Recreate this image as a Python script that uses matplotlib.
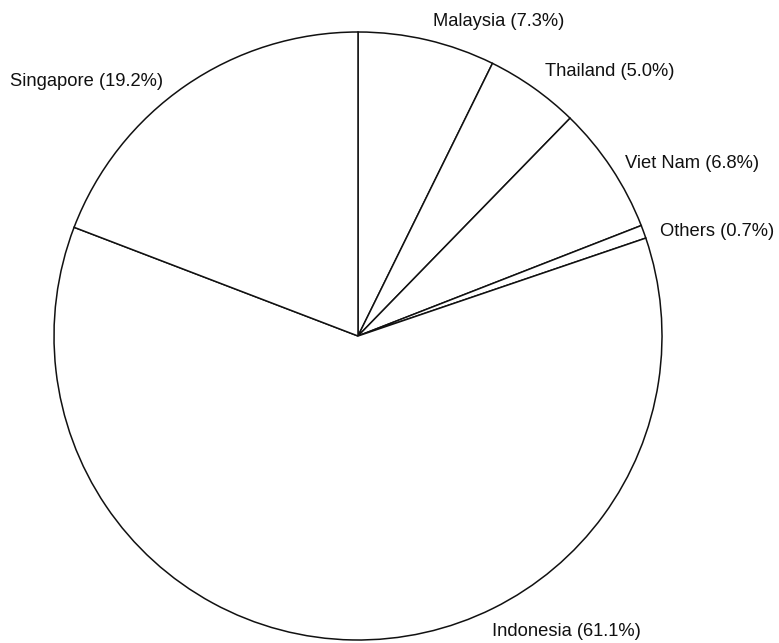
import matplotlib
matplotlib.use('Agg')
import matplotlib.pyplot as plt

# shares, clockwise from 12 o'clock
countries = ['Malaysia', 'Thailand', 'Viet Nam', 'Others', 'Indonesia', 'Singapore']
shares = [7.3, 5.0, 6.8, 0.7, 61.1, 19.2]

# label anchor points (pixels, left edge / vertical centre)
label_x = [433, 545, 625, 660, 492, 10]
label_y = [21, 72, 163, 232, 632, 81]

W, H = 779, 643
fig = plt.figure(figsize=(W / 100, H / 100), dpi=100)
ax = fig.add_axes([0, 0, 1, 1])

ax.pie(shares, startangle=90, counterclock=False,
       center=(358, H - 336), radius=304,
       colors=['white'] * len(shares),
       wedgeprops=dict(edgecolor='#111111', linewidth=1.1))

for name, s, x, y in zip(countries, shares, label_x, label_y):
    ax.text(x, H - y, f'{name} ({s:.1f}%)', ha='left', va='center',
            fontsize=13.2, family='Liberation Sans', color='#111111')

ax.set_xlim(0, W)
ax.set_ylim(0, H)
ax.set_aspect('equal')
ax.axis('off')

fig.savefig('out.png', dpi=100, facecolor='white')
